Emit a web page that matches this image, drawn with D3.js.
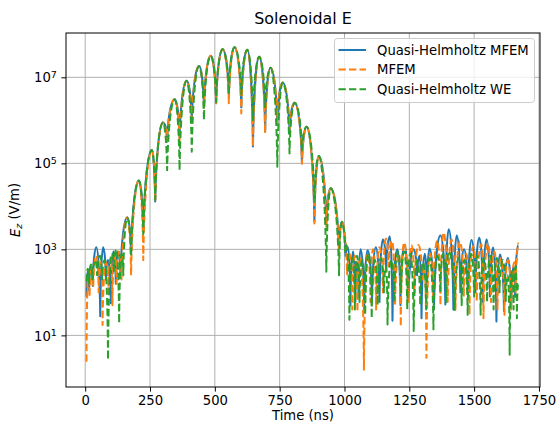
<!DOCTYPE html>
<html><head><meta charset="utf-8">
<script src="https://cdn.jsdelivr.net/npm/d3@7"></script>
<style>body{margin:0;background:#fff} text{font-family:"DejaVu Sans",sans-serif;fill:#000}</style>
</head><body><svg id="c" width="556" height="426"></svg>
<script>
// ---------- data ----------
const title = "Solenoidal E";
const xLabel = "Time (ns)";
const seriesNames = ["Quasi-Helmholtz MFEM", "MFEM", "Quasi-Helmholtz WE"];
const xTicks = [0, 250, 500, 750, 1000, 1250, 1500, 1750];
const yTickExps = [1, 3, 5, 7];

// early (messy) part, t in ns, Ez in V/m
const earlyT_qh = [5,10,15,22,29,43,58,69,80,88,99,109,118,126,136];
const earlyV_qh = [79,316,112,398,141,1120,28,1120,200,562,56,891,158,891,251];
const earlyT_mf = [5,11,17,25,31,42,52,60,67,80,90,98,105,113,121,130,140];
const earlyV_mf = [2.45,224,79,398,126,708,100,501,17.4,501,100,631,50,708,158,891,200];
const earlyT_we = [5,10,15,22,28,38,46,57,65,75,88,102,111,120,131,140,147];
const earlyV_we = [178,355,158,447,200,562,251,708,200,562,2.7,794,316,1000,19,794,251];

// main pulse: lobe peaks (shared) and nulls (per series)
const humpPeakT = [162,207,257,300,345,391,439,484,530,576,625,671,715,762,808,854,901,947,990];
const humpPeakV = [5.5e3,4.0e4,2.04e5,8.9e5,3.1e6,8.3e6,1.82e7,3.16e7,4.47e7,5.0e7,4.37e7,3.02e7,1.66e7,7.6e6,2.57e6,7.1e5,1.48e5,2.63e4,4.4e3];
const humpNullT = [177,224,270,316,364,411,458,505,554,602,647,694,741,788,836,884,930,979];
const humpNull_qh = [794,2.5e3,1.29e4,3.55e5,4.0e5,1.0e6,2.0e6,2.5e6,3.55e6,2.0e6,2.45e5,5.6e5,7.9e5,5.0e5,1.0e5,4.5e3,4.0e3,1.0e3];
const humpNull_mf = [251,562,1.29e4,3.16e5,3.16e5,7.9e5,2.0e6,2.5e6,2.5e6,1.45e6,2.45e5,5.0e5,7.9e5,5.0e5,9.8e4,4.0e3,3.16e3,794];
const humpNull_we = [676,2.24e3,1.41e4,6.9e4,6.9e4,1.86e5,1.02e6,2.63e6,4.0e6,4.0e6,1.0e6,2.0e6,8.3e4,1.7e5,2.0e5,1.26e4,302,251];

// tail (messy) part
const tailT_qh = [1004,1013,1023,1033,1042,1049,1054,1062,1076,1089,1106,1121,1135,1148,1161,1175,1185,1204,1216,1231,1246,1266,1280,1290,1297,1310,1318,1328,1345,1370,1389,1402,1420,1433,1447,1461,1476,1490,1505,1520,1534,1548,1561,1573,1586,1600,1615,1630,1643,1652,1658,1670];
const tailV_qh = [708,1120,50,891,60,501,79,1000,40,955,63,1120,60,1700,316,2000,22,1000,50,1260,60,1000,251,708,25,794,100,1050,40,2090,52,2950,40,2090,100,1000,79,1660,100,1860,60,1700,80,1100,21,759,37,631,50,398,79,1260];
const tailT_mf = [1010,1020,1030,1040,1050,1060,1075,1090,1100,1110,1122,1135,1148,1160,1170,1183,1195,1210,1217,1230,1245,1258,1270,1285,1300,1308,1316,1330,1342,1358,1370,1382,1398,1413,1428,1445,1460,1470,1482,1496,1510,1528,1536,1553,1565,1578,1590,1603,1617,1630,1643,1655,1660,1672];
const tailV_mf = [263,794,40,708,35,631,1.58,794,60,1000,40,1120,100,1780,398,1580,50,794,16,1450,60,1260,100,1260,200,398,3.0,794,80,1580,50,2450,60,1700,40,1550,80,794,30,1200,60,1320,25,1410,60,891,40,631,30,562,40,501,100,1410];
const tailT_we = [1002,1008,1019,1030,1040,1048,1058,1068,1080,1092,1105,1117,1128,1140,1152,1160,1166,1180,1192,1206,1218,1230,1242,1254,1267,1280,1292,1303,1315,1328,1343,1358,1370,1380,1392,1402,1425,1440,1452,1462,1475,1488,1500,1512,1525,1537,1550,1562,1575,1587,1598,1610,1622,1630,1637,1646,1652,1660,1665,1670];
const tailV_we = [891,1260,23,631,40,708,60,562,30,794,25,562,50,631,100,398,18,562,60,891,100,891,40,794,12.6,562,50,501,40,631,13.8,708,100,794,60,891,39,631,50,562,30,794,80,708,30,631,60,708,40,631,100,562,63,251,3.55,316,40,398,25,158];

const colors = ["#1f77b4", "#ff7f0e", "#2ca02c"];

// ---------- layout ----------
const L = 66, R = 540, T = 33, B = 387;
const svg = d3.select("#c");
const x = d3.scaleLinear().domain([-74, 1754]).range([L, R]);
const y = d3.scaleLog().domain([Math.pow(10, -0.2), Math.pow(10, 8.03)]).range([B, T]);

function assemble(eT, eV, nulls, tT, tV) {
  const pts = [];
  eT.forEach((t, i) => pts.push([t, eV[i]]));
  humpPeakT.forEach((t, i) => {
    pts.push([t, humpPeakV[i]]);
    if (i < humpNullT.length) pts.push([humpNullT[i], nulls[i]]);
  });
  tT.forEach((t, i) => pts.push([t, tV[i]]));
  return pts;
}
const series = [
  assemble(earlyT_qh, earlyV_qh, humpNull_qh, tailT_qh, tailV_qh),
  assemble(earlyT_mf, earlyV_mf, humpNull_mf, tailT_mf, tailV_mf),
  assemble(earlyT_we, earlyV_we, humpNull_we, tailT_we, tailV_we)
];

function lobePath(pts) {
  const P = pts.map(d => [x(d[0]), y(d[1])]);
  const p = d3.path();
  p.moveTo(P[0][0], P[0][1]);
  for (let i = 1; i < P.length; i++) {
    const [xa, ya] = P[i - 1], [xb, yb] = P[i];
    const dx = xb - xa;
    if (yb < ya) p.bezierCurveTo(xa + 0.12 * dx, ya + 0.6 * (yb - ya), xb - 0.42 * dx, yb, xb, yb);
    else p.bezierCurveTo(xa + 0.42 * dx, ya, xb - 0.12 * dx, yb - 0.6 * (yb - ya), xb, yb);
  }
  return p.toString();
}

// grid
const grid = svg.append("g");
xTicks.forEach(t => grid.append("line").attr("x1", x(t)).attr("x2", x(t)).attr("y1", T).attr("y2", B)
  .attr("stroke", "#b0b0b0").attr("stroke-width", 1));
yTickExps.forEach(e => grid.append("line").attr("x1", L).attr("x2", R).attr("y1", y(Math.pow(10, e))).attr("y2", y(Math.pow(10, e)))
  .attr("stroke", "#b0b0b0").attr("stroke-width", 1));

// clip
svg.append("clipPath").attr("id", "clip").append("rect").attr("x", L).attr("y", T).attr("width", R - L).attr("height", B - T);

const lines = svg.append("g").attr("clip-path", "url(#clip)");
series.forEach((s, i) => {
  lines.append("path").attr("d", lobePath(s)).attr("fill", "none")
    .attr("stroke", colors[i]).attr("stroke-width", 2)
    .attr("stroke-linejoin", "round")
    .attr("stroke-dasharray", i === 0 ? null : "7.3,3.2");
});

// axes
const xAxis = d3.axisBottom(x).tickValues(xTicks).tickSize(4.6).tickPadding(4.5).tickFormat(d3.format("d"));
const gx = svg.append("g").attr("transform", `translate(0,${B})`).call(xAxis);
gx.select(".domain").remove();
gx.selectAll("text").attr("font-size", "13.2px").attr("font-family", "DejaVu Sans").attr("fill", "#000");
gx.selectAll("line").attr("stroke", "#000").attr("stroke-width", 1);

const yAxis = d3.axisLeft(y).tickValues(yTickExps.map(e => Math.pow(10, e))).tickSize(4.6).tickPadding(4.5).tickFormat("");
const gy = svg.append("g").attr("transform", `translate(${L},0)`).call(yAxis);
gy.select(".domain").remove();
gy.selectAll("line").attr("stroke", "#000").attr("stroke-width", 1);
gy.selectAll(".tick text").each(function (d) {
  const t = d3.select(this).attr("font-size", "13.2px").attr("font-family", "DejaVu Sans").attr("fill", "#000").attr("dy", "0.35em");
  t.text(null);
  t.append("tspan").text("10");
  t.append("tspan").attr("dy", "-0.45em").attr("font-size", "9.5px").text(String(Math.round(Math.log10(d))));
});

// frame
svg.append("rect").attr("x", L).attr("y", T).attr("width", R - L).attr("height", B - T)
  .attr("fill", "none").attr("stroke", "#000").attr("stroke-width", 1);

// title and labels
svg.append("text").attr("x", (L + R) / 2).attr("y", 24).attr("text-anchor", "middle").attr("font-size", "15.9px").text(title);
svg.append("text").attr("x", (L + R) / 2).attr("y", 420).attr("text-anchor", "middle").attr("font-size", "13.2px").text(xLabel);
const yl = svg.append("text").attr("transform", `translate(20,${(T + B) / 2}) rotate(-90)`).attr("text-anchor", "middle").attr("font-size", "13.2px");
yl.append("tspan").attr("font-style", "italic").text("E");
yl.append("tspan").attr("font-style", "italic").attr("font-size", "9.5px").attr("dy", "0.25em").text("z");
yl.append("tspan").attr("dy", "-0.25em").text(" (V/m)");

// legend
const lg = svg.append("g");
lg.append("rect").attr("x", 334.5).attr("y", 38.5).attr("width", 200).attr("height", 64).attr("rx", 3)
  .attr("fill", "#fff").attr("fill-opacity", 0.8).attr("stroke", "#cccccc").attr("stroke-width", 1);
seriesNames.forEach((n, i) => {
  const yy = 50 + i * 19.6;
  lg.append("line").attr("x1", 338.5).attr("x2", 366).attr("y1", yy).attr("y2", yy)
    .attr("stroke", colors[i]).attr("stroke-width", 2).attr("stroke-dasharray", i === 0 ? null : "7.3,3.2");
  lg.append("text").attr("x", 377).attr("y", yy + 4.7).attr("font-size", "13.2px").text(n);
});
</script></body></html>
